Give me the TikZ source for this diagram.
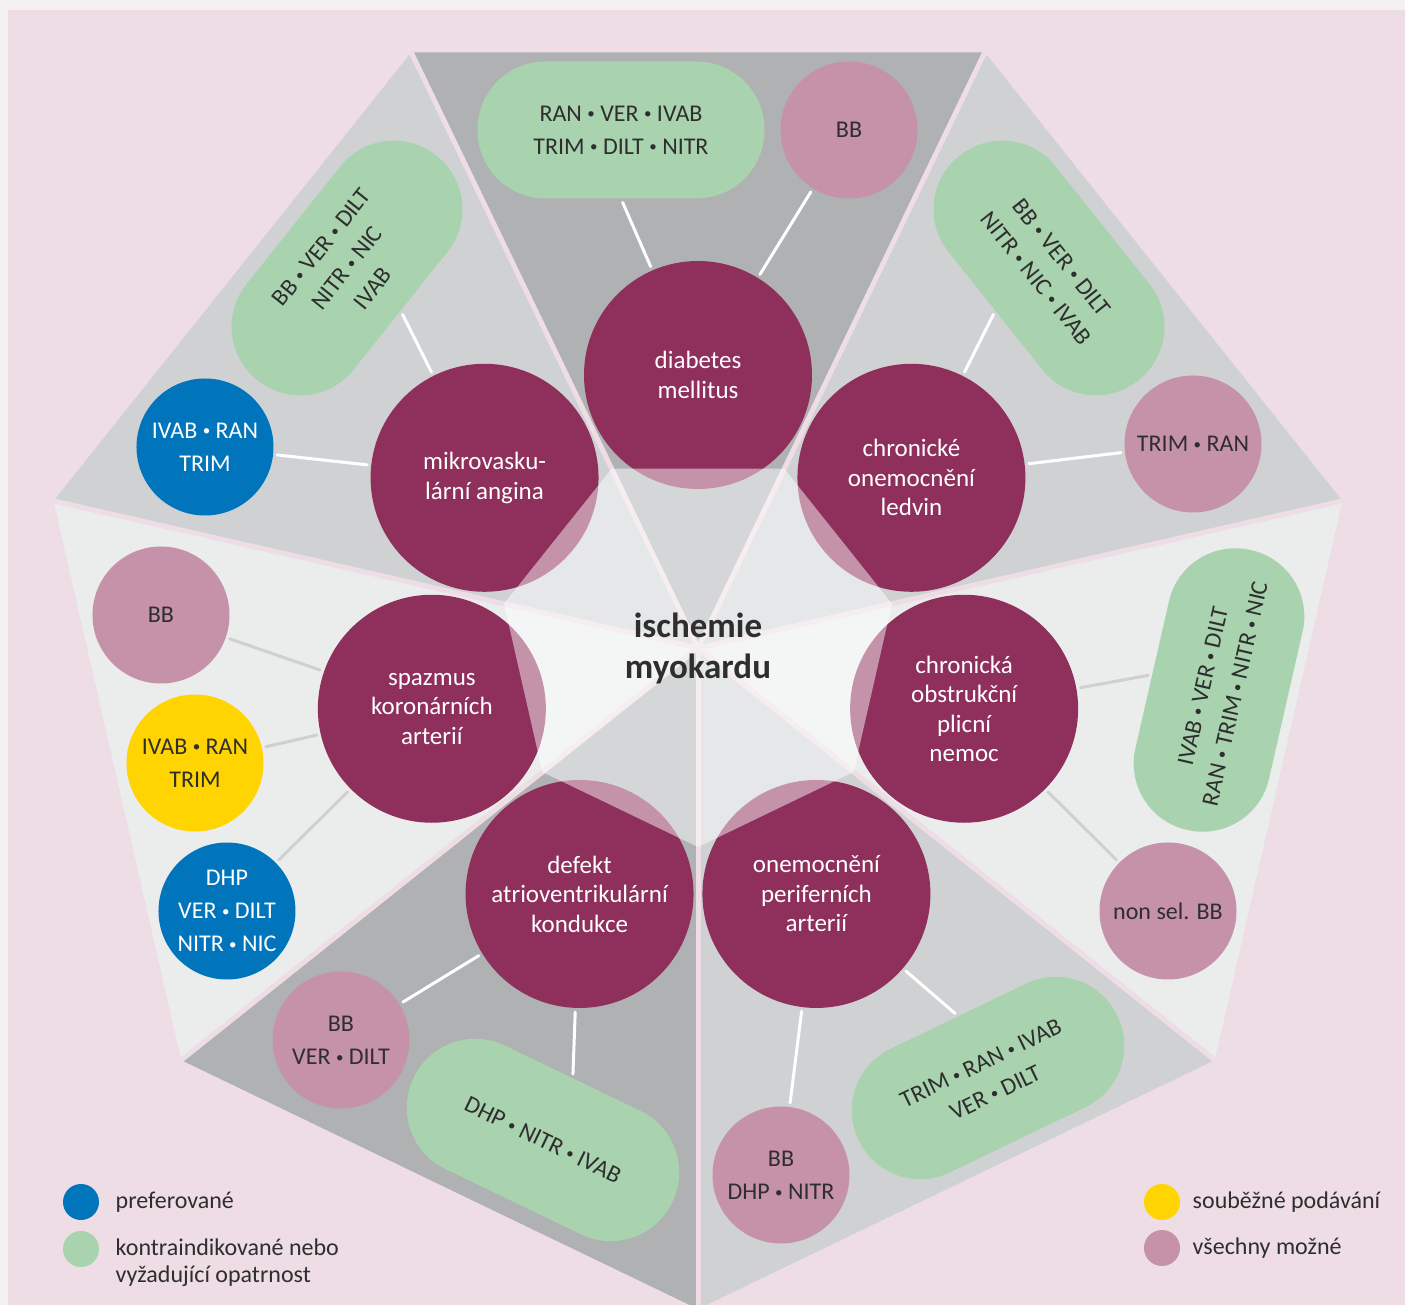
\documentclass[tikz,border=0pt]{standalone}
\usepackage{fontspec}
\setmainfont{Carlito}
\usetikzlibrary{positioning}

\definecolor{outer}{HTML}{F5F0F2}
\definecolor{panel}{HTML}{EEDDE4}
\definecolor{secdark}{HTML}{B0B1B3}
\definecolor{secmid}{HTML}{D0D1D3}
\definecolor{seclight}{HTML}{EBECEC}
\definecolor{plum}{HTML}{8E2F5C}
\definecolor{mauve}{HTML}{C592A9}
\definecolor{mint}{HTML}{A9D2AF}
\definecolor{ocean}{HTML}{0075BB}
\definecolor{sun}{HTML}{FFD400}
\definecolor{ink}{HTML}{2E2E2E}
\definecolor{linkgray}{HTML}{D0D0D1}

% small raised bullet between drug names
\newcommand{\bulsep}{\ \raisebox{2.2pt}{\fontsize{15}{15}\selectfont •}\ }

\begin{document}
\begin{tikzpicture}[x=1pt, y=1pt, line cap=round, line join=round,
	disease/.style={circle, fill=plum, text=white, minimum size=228pt, inner sep=0pt, align=center, font=\fontsize{25}{29.5}\selectfont},
	drug/.style={circle, fill=mauve, text=ink, minimum size=137pt, inner sep=0pt, align=center, font=\fontsize{24}{33}\selectfont},
	pill/.style={rectangle, rounded corners=68pt, fill=mint, text=ink, minimum width=287pt, minimum height=137pt, inner sep=0pt, align=center, font=\fontsize{24}{33}\selectfont},
	spoke/.style={line width=5pt, draw=panel},
	link/.style={line width=3pt, draw=white, shorten <=4pt, shorten >=4pt},
	greylink/.style={link, draw=linkgray},
	legdot/.style={circle, minimum size=36pt, inner sep=0pt},
	legtext/.style={text=ink, align=left, font=\fontsize{24}{27}\selectfont}]
	\useasboundingbox (-698, -657) rectangle (707, 648);
	% Background
	\fill [outer] (-698, -657) rectangle (707, 648);
	\fill [panel] (-690, -657) rectangle (707, 638);
	% Sectors
	\foreach \a/\c in {90/secdark, 141.43/secmid, 192.86/seclight, 244.29/secdark, 295.71/secmid, 347.14/seclight, 38.57/secmid}
		\fill [\c] (0, 0) -- (\a - 25.71:661) -- (\a + 25.71:661) -- cycle;
	\foreach \a in {12.86, 64.29, 115.71, 167.14, 218.57, 270, 321.43}
		\draw [spoke] (0, 0) -- (\a:661);
	% Disease circles
	\foreach \a/\t [count=\x] in {90/{diabetes\\mellitus}, 38.57/{chronické\\onemocnění\\ledvin}, 347.14/{chronická\\obstrukční\\plicní\\nemoc}, 295.71/{onemocnění\\periferních\\arterií}, 244.29/{defekt\\atrioventrikulární\\kondukce}, 192.86/{spazmus\\koronárních\\arterií}, 141.43/{mikrovasku-\\lární angina}}
		\node [disease] (dis-\x) at (\a:273) {\t};
	% Drugs around each disease
	\node [pill] (drug-1-1) at (-77, 518) {RAN\bulsep VER\bulsep IVAB\\TRIM\bulsep DILT\bulsep NITR};
	\node [drug] (drug-1-2) at (151, 518) {BB};
	\node [pill, rotate=-51.43] (drug-2-1) at (351, 380) {BB\bulsep VER\bulsep DILT\\NITR\bulsep NIC\bulsep IVAB};
	\node [drug] (drug-2-2) at (495, 204) {TRIM\bulsep RAN};
	\node [pill, rotate=77.14] (drug-3-1) at (521, -42) {IVAB\bulsep VER\bulsep DILT\\RAN\bulsep TRIM\bulsep NITR\bulsep NIC};
	\node [drug] (drug-3-2) at (470, -263) {non sel. BB};
	\node [pill, rotate=25.71] (drug-4-1) at (290, -430) {TRIM\bulsep RAN\bulsep IVAB\\VER\bulsep DILT};
	\node [drug] (drug-4-2) at (83, -527) {BB\\DHP\bulsep NITR};
	\node [pill, rotate=-25.71] (drug-5-1) at (-155, -492) {DHP\bulsep NITR\bulsep IVAB};
	\node [drug] (drug-5-2) at (-357, -392) {BB\\VER\bulsep DILT};
	\node [drug] (drug-6-1) at (-537, 33) {BB};
	\node [drug, fill=sun] (drug-6-2) at (-503, -115) {IVAB\bulsep RAN\\TRIM};
	\node [drug, fill=ocean, text=white] (drug-6-3) at (-471, -263) {DHP\\VER\bulsep DILT\\NITR\bulsep NIC};
	\node [pill, rotate=51.43] (drug-7-1) at (-351, 380) {BB\bulsep VER\bulsep DILT\\NITR\bulsep NIC\\IVAB};
	\node [drug, fill=ocean, text=white] (drug-7-2) at (-493, 201) {IVAB\bulsep RAN\\TRIM};
	% Connectors
	\draw [link] (drug-1-1.south) -- (dis-1);
	\draw [link] (drug-1-2) -- (dis-1);
	\draw [link] (drug-2-1.south) -- (dis-2);
	\draw [link] (drug-2-2) -- (dis-2);
	\draw [greylink] (drug-3-1.north) -- (dis-3);
	\draw [greylink] (drug-3-2) -- (dis-3);
	\draw [link] (drug-4-1.north) -- (dis-4);
	\draw [link] (drug-4-2) -- (dis-4);
	\draw [link] (drug-5-1.north) -- (dis-5);
	\draw [link] (drug-5-2) -- (dis-5);
	\foreach \x in {1, 2, 3}
		\draw [greylink] (drug-6-\x) -- (dis-6);
	\draw [link] (drug-7-1.south) -- (dis-7);
	\draw [link] (drug-7-2) -- (dis-7);
	% Light core over the overlaps
	\fill [white, opacity=0.48] (12.86:199) -- (64.29:199) -- (115.71:199) -- (167.14:199) -- (218.57:199) -- (270:199) -- (321.43:199) -- cycle;
	\node [text=ink, align=center, font=\fontsize{35}{41}\selectfont\bfseries] (core) at (0, 0) {ischemie\\myokardu};
	% Legend
	\node [legdot, fill=ocean] (key-1) at (-617, -554) {};
	\node [legdot, fill=mint] (key-2) at (-617, -601) {};
	\node [legdot, fill=sun] (key-3) at (464, -554) {};
	\node [legdot, fill=mauve] (key-4) at (464, -600) {};
	\node [legtext, right=13pt of key-1] {preferované};
	\node [legtext, right=13pt of key-2, yshift=-13.5pt] {kontraindikované nebo\\vyžadující opatrnost};
	\node [legtext, right=9pt of key-3] {souběžné podávání};
	\node [legtext, right=9pt of key-4] {všechny možné};
\end{tikzpicture}
\end{document}
